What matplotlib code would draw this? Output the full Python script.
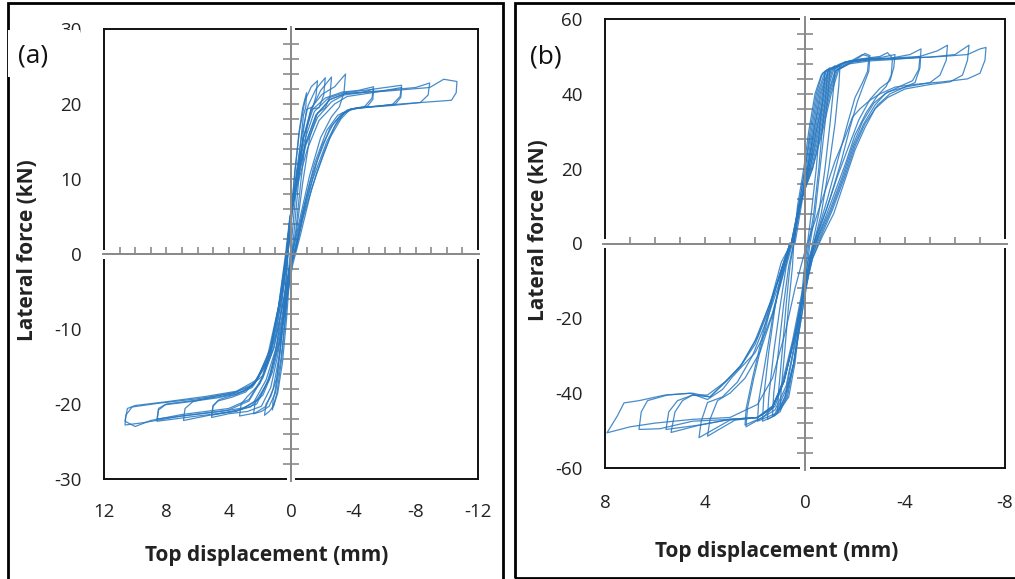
import matplotlib.pyplot as plt
from matplotlib.patches import Rectangle
import numpy as np

plt.rcParams['font.family'] = ['Open Sans', 'DejaVu Sans']
plt.rcParams['axes.unicode_minus'] = False

# ---------------- panel (a): displacement (mm) / force (kN) per cycle -------
a1_d = [0.2, 0.0, -0.25, -0.5, -0.75, -1.0, -0.95, -0.8, -0.55, -0.3, -0.05, 0.15,
        0.35, 0.6, 0.9, 1.2, 1.15, 1.0, 0.7, 0.45, 0.25, 0.2]
a1_f = [0, 5, 11, 16, 19.5, 21.5, 19.6, 18.5, 13.5, 8, 2, -2,
        -8, -14, -18.5, -20.8, -19.5, -18, -13, -7, -2, 0]

a2_d = [0.2, 0.0, -0.25, -0.55, -0.9, -1.3, -1.7, -1.6, -1.4, -1.0, -0.8, -0.5, -0.2,
        0.05, 0.3, 0.55, 0.85, 1.1, 1.4, 1.7, 1.6, 1.3, 0.9, 0.6, 0.35, 0.2]
a2_f = [0, 5, 11, 16.5, 20.5, 22.3, 23.1, 21.0, 19.6, 19.3, 16.5, 10, 3,
        -2, -9, -14.5, -18.5, -20.2, -21.0, -21.5, -20.0, -19.0, -16.5, -11, -4, 0]

a3_d = [0.2, -0.05, -0.35, -0.7, -1.1, -1.6, -2.2, -2.1, -1.8, -1.3, -1.0, -0.65, -0.3,
        0.1, 0.35, 0.65, 1.0, 1.4, 1.9, 2.4, 2.3, 2.0, 1.4, 0.9, 0.5, 0.2]
a3_f = [0, 5, 11, 16, 19.8, 22.0, 23.5, 21.2, 19.5, 19.3, 16.5, 10, 3,
        -2, -8.5, -14, -18.5, -20.3, -21.0, -21.3, -19.8, -18.8, -16.8, -12, -5, 0]

a4_d = [0.2, -0.05, -0.4, -0.8, -1.3, -1.9, -2.6, -2.5, -2.2, -1.7, -1.2, -0.75, -0.35,
        0.1, 0.4, 0.75, 1.15, 1.6, 2.3, 3.3, 3.2, 2.8, 2.0, 1.3, 0.7, 0.25]
a4_f = [0, 5, 11, 15.5, 19.2, 21.8, 23.6, 21.0, 19.5, 18.8, 15.5, 9.5, 3,
        -2, -8, -13.5, -18.0, -20.3, -21.2, -21.6, -20.0, -19.0, -17.3, -13, -6, 0]

a5_d = [0.25, 0.0, -0.4, -0.8, -1.3, -2.0, -2.8, -3.5, -3.4, -3.1, -2.6, -1.9, -1.2, -0.6, -0.2,
        0.1, 0.45, 0.85, 1.3, 1.9, 2.8, 4.0, 5.1, 5.0, 4.6, 3.5, 2.5, 1.5, 0.8, 0.3]
a5_f = [0, 5, 10.5, 15.5, 19.5, 21.3, 22.3, 24.0, 21.5, 19.6, 18.3, 15.5, 10.5, 5, 1,
        -2, -8, -13.5, -17.8, -20.3, -21.0, -21.3, -21.8, -20.2, -19.4, -18.7, -17.8, -14.5, -7, 0]

a6_d = [0.3, 0.05, -0.35, -0.8, -1.4, -2.2, -3.3, -4.3, -5.3, -5.2, -4.7, -3.8, -3.0, -2.3,
        -1.5, -0.8, -0.3, 0.1, 0.5, 0.95, 1.5, 2.2, 3.3, 5.0, 6.9, 6.8, 6.3, 5.0, 3.5, 2.3,
        1.3, 0.6, 0.3]
a6_f = [0, 5, 10.5, 15.5, 19.3, 20.8, 21.6, 21.8, 22.3, 20.8, 19.6, 19.3, 18.5, 16.5,
        12, 6, 1, -2, -8, -13, -17, -20, -20.8, -21.4, -22.2, -20.6, -19.7, -19.0, -18.4, -17.2,
        -13.5, -6, 0]

a7_d = [0.3, 0.05, -0.35, -0.85, -1.5, -2.4, -3.4, -5.0, -7.1, -7.0, -6.5, -5.0, -3.8, -3.1,
        -2.5, -1.7, -0.9, -0.35, 0.1, 0.55, 1.0, 1.6, 2.4, 3.5, 6.0, 8.6, 8.5, 8.0, 6.5, 4.5,
        3.0, 1.8, 1.0, 0.45, 0.3]
a7_f = [0, 5, 10, 15, 19, 20.8, 21.5, 21.9, 22.5, 21.0, 19.9, 19.6, 19.3, 18.3,
        16.8, 12.5, 6.5, 1, -2, -8, -12.8, -16.8, -19.8, -21.0, -21.6, -22.3, -20.8, -20.0, -19.6, -19.0,
        -18.3, -16.2, -11, -4, 0]

a8_d = [0.3, 0.05, -0.4, -0.9, -1.6, -2.5, -3.5, -6.0, -8.0, -8.9, -8.8, -8.3, -6.5, -4.5,
        -3.6, -3.0, -2.3, -1.4, -0.7, -0.3, 0.1, 0.6, 1.1, 1.8, 2.7, 4.0, 7.0, 9.5, 10.65, 10.6,
        10.2, 8.5, 6.0, 3.8, 2.4, 1.4, 0.6, 0.3]
a8_f = [0, 5, 10, 14.5, 18.5, 20.6, 21.4, 21.8, 22.2, 22.8, 21.2, 20.2, 19.8, 19.5,
        19.2, 17.8, 15, 10, 4.5, 0.5, -2, -7.5, -12.5, -16.5, -19.6, -20.8, -21.6, -22.5, -22.8, -21.5,
        -20.4, -19.9, -19.3, -18.6, -17.5, -13.5, -5, 0]

a9_d = [0.3, 0.05, -0.4, -0.9, -1.6, -2.5, -3.5, -6.0, -8.9, -9.8, -10.65, -10.6, -10.3, -9.0,
        -7.0, -5.0, -3.8, -3.2, -2.5, -1.6, -0.8, -0.3, 0.1, 0.6, 1.1, 1.8, 2.7, 4.0, 7.0, 9.0,
        10.0, 10.65, 10.5, 10.0, 8.0, 5.5, 3.5, 2.2, 1.2, 0.5, 0.2]
a9_f = [0, 5, 10, 14.5, 18.5, 20.6, 21.4, 21.7, 22.2, 23.3, 23.0, 21.5, 20.5, 20.3,
        20.0, 19.6, 19.3, 18.0, 15.5, 10.5, 5, 0.5, -2, -7.5, -12.5, -16.3, -19.4, -20.6, -21.4, -22.2,
        -23.0, -22.3, -20.6, -20.2, -19.7, -19.0, -18.3, -16.8, -12, -4, 0]

a10_d = [0.3, 0.05, -0.4, -0.95, -1.7, -2.6, -3.4, -4.5, -5.3, -5.25, -4.9, -4.0, -3.3,
         -2.7, -2.0, -1.2, -0.5, -0.1, 0.3, 0.7, 1.2, 1.8, 2.6, 3.8, 5.1, 5.0, 4.7, 3.8,
         2.9, 2.1, 1.3, 0.7, 0.3]
a10_f = [0, 4.5, 9.5, 14.5, 18.2, 20.3, 21.2, 21.5, 22.0, 20.6, 19.7, 19.4, 18.8,
         17.3, 14.5, 9.5, 3.5, -1, -6.5, -11.5, -15.8, -18.8, -20.4, -21.0, -21.5, -20.3, -19.6, -19.1,
         -18.4, -16.5, -12.5, -6, 0]

a11_d = [0.35, 0.1, -0.45, -1.05, -1.8, -2.8, -3.6, -5.5, -7.1, -7.05, -6.7, -5.5, -4.2,
         -3.4, -2.8, -2.1, -1.3, -0.6, -0.1, 0.35, 0.8, 1.3, 2.0, 3.0, 4.5, 7.0, 8.6, 8.5,
         8.1, 6.5, 4.8, 3.5, 2.5, 1.6, 0.8, 0.35]
a11_f = [0, 4.5, 9.5, 14, 17.8, 20.0, 21.0, 21.6, 22.2, 20.9, 20.0, 19.7, 19.5,
         18.8, 17.0, 13.5, 8.5, 2.5, -1.5, -7, -12, -16, -19.2, -20.5, -21.0, -21.6, -22.0, -20.6,
         -20.1, -19.7, -19.2, -18.7, -17.6, -14.5, -7, 0]

# ---------------- panel (b) -------------------------------------------------
b1_d = [0.45, 0.3, 0.05, -0.15, -0.4, -0.65, -0.8, -0.75, -0.6, -0.45, -0.25, -0.1,
        0.05, 0.2, 0.4, 0.65, 1.0, 0.95, 0.8, 0.65, 0.5, 0.45]
b1_f = [0, 10, 20, 30, 40, 45, 46, 41, 32, 20, 8, 0,
        -8, -20, -32, -41, -44.5, -39, -28, -16, -6, 0]

b2_d = [0.45, 0.25, 0.0, -0.2, -0.45, -0.7, -0.9, -0.85, -0.7, -0.55, -0.35, -0.15,
        0.0, 0.2, 0.45, 0.7, 1.1, 1.05, 0.9, 0.75, 0.6, 0.45]
b2_f = [0, 10, 20, 30, 40, 45.5, 46.5, 41, 31, 20, 8, 0,
        -8, -20, -32, -41, -45, -39, -28, -16, -6, 0]

b3_d = [0.45, 0.25, 0.0, -0.25, -0.5, -0.8, -1.0, -0.95, -0.8, -0.6, -0.4, -0.2,
        -0.05, 0.2, 0.45, 0.75, 1.0, 1.3, 1.25, 1.05, 0.85, 0.65, 0.45]
b3_f = [0, 10, 20, 30, 40, 46, 47, 42, 32, 20, 8, 0,
        -8, -20, -32, -41, -45, -46, -40, -28, -16, -6, 0]

b4_d = [0.45, 0.2, -0.05, -0.3, -0.55, -0.85, -1.2, -1.15, -1.0, -0.8, -0.55, -0.3,
        -0.1, 0.15, 0.45, 0.8, 1.1, 1.5, 1.45, 1.25, 1.0, 0.75, 0.5]
b4_f = [0, 10, 20, 30, 40, 46, 47.5, 42, 32, 20, 8, 0,
        -8, -20, -32, -41, -45.5, -47, -41, -29, -17, -6, 0]

b5_d = [0.4, 0.15, -0.1, -0.35, -0.6, -0.95, -1.4, -1.35, -1.2, -0.95, -0.65, -0.35,
        -0.15, 0.15, 0.45, 0.8, 1.2, 1.7, 1.65, 1.45, 1.2, 0.9, 0.6]
b5_f = [0, 10, 20, 30, 40, 46.5, 47.5, 42, 32, 20, 8, 0,
        -8, -20, -32, -41, -46, -47.5, -41, -29, -17, -6, 0]

b6_d = [0.45, 0.2, -0.1, -0.35, -0.65, -0.95, -1.4, -1.9, -2.3, -2.56, -2.5, -2.3, -2.0,
        -1.7, -1.3, -0.9, -0.5, -0.2, 0.1, 0.4, 0.75, 1.2, 1.9, 1.85, 1.6, 1.3, 0.95, 0.6]
b6_f = [0, 10, 20, 30, 40, 46.5, 48, 49, 50.5, 50, 46, 43, 39,
        32, 22, 12, 3, -4, -14, -27, -39, -45.5, -47.5, -42, -32, -20, -9, 0]

b7_d = [0.5, 0.2, -0.1, -0.4, -0.7, -1.0, -1.45, -2.0, -2.4, -2.6, -2.55, -2.35, -2.1,
        -1.8, -1.45, -1.0, -0.6, -0.25, 0.05, 0.4, 0.75, 1.2, 1.7, 2.36, 2.3, 2.05, 1.7,
        1.3, 0.9, 0.55]
b7_f = [0, 10, 20, 30, 40, 46.5, 48, 49, 50.8, 50.2, 46, 42.5, 38,
        31, 22, 12, 4, -3, -13, -26, -38, -44.5, -46.5, -49, -44, -36, -26,
        -15, -6, 0]

b8_d = [0.5, 0.2, -0.15, -0.45, -0.75, -1.05, -1.6, -2.2, -3.0, -3.3, -3.5, -3.45, -3.25,
        -2.9, -2.45, -2.0, -1.6, -1.1, -0.65, -0.3, 0.05, 0.4, 0.8, 1.2, 1.7, 2.4, 2.35,
        2.1, 1.75, 1.35, 0.95, 0.55]
b8_f = [0, 10, 20, 30, 40, 46.5, 48.5, 49.3, 50, 51, 49.5, 45, 42,
        39.5, 35, 29, 21, 12, 4, -2, -12, -24, -36, -43.5, -46.5, -48.5, -44,
        -36, -26, -15, -5, 0]

b9_d = [0.5, 0.2, -0.15, -0.45, -0.8, -1.1, -1.6, -2.3, -3.1, -3.6, -3.55, -3.4, -3.0,
        -2.6, -2.15, -1.75, -1.3, -0.85, -0.45, -0.15, 0.15, 0.5, 0.9, 1.3, 1.9, 2.8, 3.9,
        3.8, 3.5, 3.0, 2.4, 1.8, 1.3, 0.9, 0.55]
b9_f = [0, 10, 20, 30, 40, 46.5, 48.5, 49.3, 49.8, 50.5, 47, 43.5, 41.5,
        38.5, 33, 26, 18, 9, 2, -4, -14, -26, -37, -44, -46.5, -47.2, -51.5,
        -47, -42, -40, -36, -29, -19, -9, 0]

b10_d = [0.5, 0.2, -0.2, -0.5, -0.85, -1.15, -1.7, -2.5, -3.4, -4.2, -4.64, -4.6, -4.4,
         -4.0, -3.3, -2.75, -2.3, -1.9, -1.5, -1.0, -0.55, -0.25, 0.1, 0.45, 0.85, 1.3,
         1.9, 3.0, 4.24, 4.15, 3.9, 3.3, 2.7, 2.1, 1.5, 1.0, 0.6]
b10_f = [0, 10, 20, 30, 40, 46.5, 48.5, 49.3, 49.5, 50.5, 52, 47, 43,
         41.8, 40.5, 37.5, 32.5, 26, 18, 9, 2, -4, -14, -26, -37, -44,
         -46.5, -47.2, -51.9, -47.5, -42.5, -41, -37, -30, -20, -10, 0]

b11_d = [0.55, 0.2, -0.2, -0.55, -0.9, -1.2, -1.75, -2.6, -3.6, -4.3, -4.6, -4.55, -4.3,
         -3.8, -3.2, -2.8, -2.35, -1.95, -1.55, -1.05, -0.6, -0.25, 0.1, 0.45, 0.85, 1.3,
         1.9, 3.0, 4.2, 5.36, 5.2, 4.9, 4.5, 3.9, 3.2, 2.6, 2.0, 1.4, 0.95, 0.6]
b11_f = [0, 10, 20, 30, 40, 46, 48, 48.8, 49.2, 49.6, 50, 46.5, 43.5,
         42, 40, 37, 32, 26, 18, 9, 2, -4, -14, -26, -37, -43.5,
         -46.5, -47, -48.5, -50.5, -45, -42, -40.5, -40.5, -37, -33, -26, -16, -7, 0]

b12_d = [0.55, 0.25, -0.25, -0.6, -0.95, -1.25, -1.8, -2.6, -3.6, -4.6, -5.3, -5.7, -5.65,
         -5.4, -5.0, -4.0, -3.4, -2.9, -2.4, -2.0, -1.6, -1.1, -0.65, -0.3, 0.05, 0.45,
         0.85, 1.3, 1.9, 3.0, 4.2, 5.0, 5.56, 5.45, 5.1, 4.5, 3.8, 3.1, 2.5, 1.9, 1.35,
         0.9, 0.55]
b12_f = [0, 10, 20, 30, 40, 46.5, 48.5, 49.3, 49.6, 50, 51.5, 53, 49,
         45, 43, 41.8, 40, 37, 32, 26, 18, 9, 2, -4, -14, -26,
         -37, -43.5, -46.5, -47, -48.5, -49.2, -49.7, -45, -42, -40.5, -41, -36.5, -32, -25, -15,
         -7, 0]

b13_d = [0.55, 0.25, -0.3, -0.65, -1.0, -1.3, -1.85, -2.7, -3.8, -5.0, -6.0, -6.56, -6.5,
         -6.3, -5.8, -5.0, -4.0, -3.3, -2.8, -2.4, -2.0, -1.6, -1.15, -0.7, -0.3, 0.05,
         0.45, 0.85, 1.3, 1.9, 3.0, 4.5, 5.8, 6.64, 6.55, 6.3, 5.5, 4.5, 3.8, 3.2, 2.6,
         2.0, 1.4, 1.0, 0.6]
b13_f = [0, 10, 20, 30, 40, 46.5, 48.5, 49.2, 49.5, 49.8, 50.5, 53, 49,
         45, 43.2, 42.5, 41.3, 39, 36, 31, 25, 17, 8, 2, -4, -14,
         -26, -37, -43.5, -46.5, -47, -47.5, -49.5, -49.7, -45, -42, -40.5, -40, -41, -37, -33,
         -27, -17, -8, 0]

b14_d = [0.55, 0.25, -0.3, -0.7, -1.05, -1.35, -1.9, -2.7, -4.0, -5.5, -6.5, -7.0, -7.24,
         -7.2, -7.0, -6.5, -5.5, -4.5, -3.6, -3.0, -2.6, -2.2, -1.9, -1.6, -1.2, -0.8,
         -0.4, 0.0, 0.4, 0.8, 1.3, 1.9, 3.0, 4.5, 6.0, 7.0, 7.92, 7.5, 7.24, 6.64, 5.6,
         4.6, 3.9, 3.3, 2.9, 2.4, 2.0, 1.6, 1.3, 1.0, 0.76, 0.55]
b14_f = [0, 10, 20, 30, 40, 46.5, 48.5, 49.2, 49.5, 50, 50.5, 52, 52.4,
         49, 45.5, 44, 43.2, 42.6, 41.8, 40, 38.3, 36, 33.8, 28.4, 22, 14,
         6, -2, -12, -24, -36, -43, -46.5, -47, -48, -49, -50.6, -46, -42.6, -42, -40.5,
         -40, -41.7, -39, -35.6, -32, -29.2, -24, -18.6, -11, -5.2, 0]

a_cycles = [(a1_d, a1_f), (a2_d, a2_f), (a3_d, a3_f), (a4_d, a4_f), (a5_d, a5_f),
            (a6_d, a6_f), (a7_d, a7_f), (a8_d, a8_f), (a9_d, a9_f), (a10_d, a10_f),
            (a11_d, a11_f)]
b_cycles = [(b1_d, b1_f), (b2_d, b2_f), (b3_d, b3_f), (b4_d, b4_f), (b5_d, b5_f),
            (b6_d, b6_f), (b7_d, b7_f), (b8_d, b8_f), (b9_d, b9_f), (b10_d, b10_f),
            (b11_d, b11_f), (b12_d, b12_f), (b13_d, b13_f), (b14_d, b14_f)]

a_xticks = [12, 8, 4, 0, -4, -8, -12]
a_yticks = [-30, -20, -10, 0, 10, 20, 30]
b_xticks = [8, 4, 0, -4, -8]
b_yticks = [-60, -40, -20, 0, 20, 40, 60]

BLUE = '#2878c0'
GREY = '#8a8a8a'
W, H = 1015, 579


def fbox(l, t, r, b):
    return [l / W, 1 - b / H, (r - l) / W, (b - t) / H]


def panel(ax, cycles, xticks, yticks, xminor, yminor, xpad, ypad):
    for d, f in cycles:
        ax.plot(d, f, color=BLUE, lw=0.9, alpha=0.85, zorder=5)
    ax.set_xlim(xticks[0], xticks[-1])
    ax.set_ylim(yticks[0], yticks[-1])
    ax.set_xticks(xticks)
    ax.set_yticks(yticks)
    ax.tick_params(length=0, labelsize=13.5, colors='#222222')
    ax.tick_params(axis='x', pad=xpad)
    ax.tick_params(axis='y', pad=ypad)
    for s in ax.spines.values():
        s.set_linewidth(1.4)
        s.set_color('#111111')

    # axes through the origin, Excel style, with small tick marks
    ax.axhline(0, color=GREY, lw=1.4, zorder=2)
    ax.axvline(0, color=GREY, lw=1.4, zorder=2)
    ax.plot(xminor, np.zeros(len(xminor)), ls='none', marker=2, ms=5,
            mew=1.2, color=GREY, zorder=2)
    ax.plot(np.zeros(len(yminor)), yminor, ls='none', marker='_', ms=11,
            mew=1.2, color=GREY, zorder=2)
    # white gaps where the origin axes cut the frame
    for xs, ys in [([0.488, 0.512], [1, 1]), ([0.488, 0.512], [0, 0]),
                   ([0, 0], [0.49, 0.51]), ([1, 1], [0.49, 0.51])]:
        ax.plot(xs, ys, transform=ax.transAxes, color='white', lw=3,
                clip_on=False, zorder=6, solid_capstyle='butt')
    ax.plot([0.5, 0.5], [-0.005, 1.005], transform=ax.transAxes, color=GREY,
            lw=1.4, clip_on=False, zorder=7)
    ax.plot([-0.004, 1.004], [0.5, 0.5], transform=ax.transAxes, color=GREY,
            lw=1.4, clip_on=False, zorder=7)


fig = plt.figure(figsize=(W / 100, H / 100), dpi=100)

ax_a = fig.add_axes(fbox(104, 29, 478, 479))
panel(ax_a, a_cycles, a_xticks, a_yticks,
      [v for v in range(-11, 12) if v != 0],
      [v for v in range(-28, 29, 2) if v != 0], 17, 16)

ax_b = fig.add_axes(fbox(605, 19, 1005, 468))
panel(ax_b, b_cycles, b_xticks, b_yticks,
      [v for v in range(-7, 8) if v != 0],
      [v for v in range(-56, 57, 4) if v != 0], 19, 16)

# axis titles
fig.text(28 / W, 1 - 250 / H, 'Lateral force (kN)', rotation=90, ha='center',
         va='center', weight='bold', size=15, color='#222222')
fig.text(267 / W, 1 - 556 / H, 'Top displacement (mm)', ha='center',
         va='center', weight='bold', size=15, color='#222222')
fig.text(538 / W, 1 - 230 / H, 'Lateral force (kN)', rotation=90, ha='center',
         va='center', weight='bold', size=15, color='#222222')
fig.text(777 / W, 1 - 552 / H, 'Top displacement (mm)', ha='center',
         va='center', weight='bold', size=15, color='#222222')

# panel tags
fig.add_artist(Rectangle((8 / W, 1 - 77 / H), 72 / W, 47 / H,
                         transform=fig.transFigure, facecolor='white',
                         edgecolor='none', zorder=10))
fig.text(33 / W, 1 - 56 / H, '(a)', ha='center', va='center', size=19,
         color='#111111', zorder=11)
fig.text(546 / W, 1 - 57 / H, '(b)', ha='center', va='center', size=19,
         color='#111111', zorder=11)

# frames around the two panels
fig.add_artist(Rectangle((8 / W, 1 - 590 / H), 495 / W, 587 / H,
                         transform=fig.transFigure, fill=False,
                         edgecolor='black', lw=2))
fig.add_artist(Rectangle((515 / W, 1 - 578 / H), 510 / W, 575 / H,
                         transform=fig.transFigure, fill=False,
                         edgecolor='black', lw=2))

fig.savefig('out.png', dpi=100)
